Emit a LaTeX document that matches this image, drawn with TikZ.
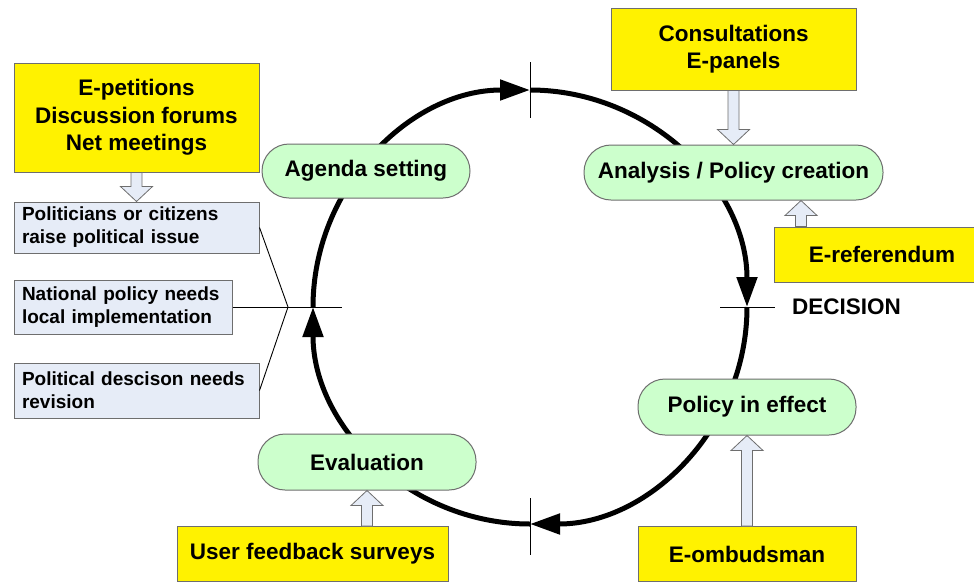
\documentclass[tikz,border=0pt]{standalone}
\usepackage{fontspec}
\setmainfont{Liberation Sans}
\usetikzlibrary{arrows.meta,calc}
\definecolor{pillgreen}{HTML}{CCFFCC}
\definecolor{boxblue}{HTML}{E6ECF7}
\definecolor{edgegray}{HTML}{6E6E6E}
\newcommand\bigfont{\fontsize{22.5}{27.5}\selectfont\bfseries}
\newcommand\smallfont{\fontsize{19}{23}\selectfont\bfseries}
\tikzset{
 pill/.style={draw=edgegray, line width=1pt, fill=pillgreen, rounded corners=27pt, font=\bigfont, inner sep=0pt},
 ybox/.style={draw=edgegray, line width=1pt, fill=yellow, align=center, font=\bigfont, inner sep=0pt},
 bbox/.style={draw=edgegray, line width=1pt, fill=boxblue, align=left, font=\smallfont, inner xsep=8pt, inner ysep=0pt},
 barrow/.style={draw=edgegray, line width=0.8pt, fill=boxblue},
 cycarrow/.style={line width=5pt, -{Triangle[length=30pt,width=20pt]}},
 tickline/.style={line width=0.9pt},
}
\newcommand\blockarrow[2]{%
 \path[barrow] let \p1=#1, \p2=#2, \n1={ifthenelse(\y2>\y1,1,-1)} in
 (\x2-5.5pt,\y1) -- (\x2-5.5pt,\y2-\n1*15pt) -- (\x2-16pt,\y2-\n1*15pt) -- (\x2,\y2)
 -- (\x2+16pt,\y2-\n1*15pt) -- (\x2+5.5pt,\y2-\n1*15pt) -- (\x2+5.5pt,\y1) -- cycle;}
\begin{document}
\begin{tikzpicture}[x=1pt,y=-1pt]
\clip (0,0) rectangle (974,582);
\fill[white] (0,0) rectangle (974,582);
% cycle
\coordinate (c) at (530,307);
\draw[cycarrow] ($(c)+(-217,0)$) arc[start angle=180, end angle=270, radius=217];
\draw[cycarrow] ($(c)+(0,-217)$) arc[start angle=270, end angle=360, radius=217];
\draw[cycarrow] ($(c)+(217,0)$) arc[start angle=0, end angle=90, radius=217];
\draw[cycarrow] ($(c)+(0,217)$) arc[start angle=90, end angle=180, radius=217];
% ticks
\coordinate (tt1) at (530,62); \coordinate (tt2) at (530,118);
\coordinate (rt1) at (720,307); \coordinate (rt2) at (775,307);
\coordinate (bt1) at (530,498); \coordinate (bt2) at (530,555);
\draw[tickline] (tt1) -- (tt2);
\draw[tickline] (rt1) -- (rt2);
\draw[tickline] (bt1) -- (bt2);
% phase nodes
\node[pill, minimum width=208pt, minimum height=54pt] (agenda) at (366,171) {Agenda setting};
\node[pill, minimum width=299pt, minimum height=55pt] (anal) at (733.5,172.5) {Analysis / Policy creation};
\node[pill, minimum width=218pt, minimum height=56pt] (pie) at (747,407) {Policy in effect};
\node[pill, minimum width=218pt, minimum height=56pt] (eval) at (367,462) {Evaluation};
% yellow boxes
\node[ybox, minimum width=245pt, minimum height=109pt] (epet) at (136.5,117.5) {E-petitions\\Discussion forums\\Net meetings};
\node[ybox, minimum width=245pt, minimum height=82pt] (cons) at (733.5,49) {Consultations\\E-panels};
\node[ybox, minimum width=216pt, minimum height=55pt] (eref) at (882,254.5) {E-referendum};
\node[ybox, minimum width=271pt, minimum height=55pt] (ufs) at (312.5,554) {User feedback surveys};
\node[ybox, minimum width=218pt, minimum height=55pt] (eomb) at (747,554) {E-ombudsman};
% blue boxes
\node[bbox, text width=229pt, minimum height=51pt] (pol) at (136.5,227.5) {Politicians or citizens\\raise political issue};
\node[bbox, text width=202pt, minimum height=54pt] (nat) at (123,307) {National policy needs\\local implementation};
\node[bbox, text width=229pt, minimum height=55pt] (rev) at (136.5,390.5) {Political descison needs\\revision};
% decision
\node[font=\bigfont, anchor=west, inner sep=0pt] (dec) at (792,307) {DECISION};
% left fan
\coordinate (fan) at (288,307);
\coordinate (lt) at (342,307);
\draw[tickline] (nat.east) -- (lt);
\draw[tickline] (pol.east) -- (fan) -- (rev.east);
% block arrows
\coordinate (refx) at (801,0);
\blockarrow{(epet.south)}{(pol.north)}
\blockarrow{(cons.south)}{(anal.north)}
\blockarrow{(eref.north -| refx)}{(anal.south -| refx)}
\blockarrow{(ufs.north -| eval.south)}{(eval.south)}
\blockarrow{(eomb.north)}{(pie.south)}
\end{tikzpicture}
\end{document}
